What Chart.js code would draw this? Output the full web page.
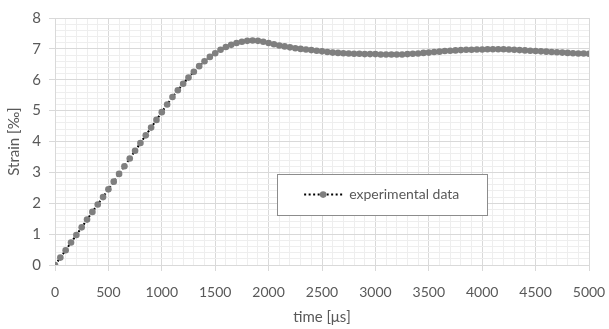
<!DOCTYPE html>
<html>
<head>
<meta charset="utf-8">
<script src="https://cdn.jsdelivr.net/npm/chart.js@4"></script>
<style>
  html, body { margin: 0; padding: 0; background: #fff; }
  #wrap { width: 609px; height: 329px; }
</style>
</head>
<body>
<div id="wrap"><canvas id="mycanvas" width="609" height="329"></canvas></div>
<script>
var timeUs = [
  0, 50, 100, 150, 200, 250, 300, 350, 400, 450,
  500, 550, 600, 650, 700, 750, 800, 850, 900, 950,
  1000, 1050, 1100, 1150, 1200, 1250, 1300, 1350, 1400, 1450,
  1500, 1550, 1600, 1650, 1700, 1750, 1800, 1850, 1900, 1950,
  2000, 2050, 2100, 2150, 2200, 2250, 2300, 2350, 2400, 2450,
  2500, 2550, 2600, 2650, 2700, 2750, 2800, 2850, 2900, 2950,
  3000, 3050, 3100, 3150, 3200, 3250, 3300, 3350, 3400, 3450,
  3500, 3550, 3600, 3650, 3700, 3750, 3800, 3850, 3900, 3950,
  4000, 4050, 4100, 4150, 4200, 4250, 4300, 4350, 4400, 4450,
  4500, 4550, 4600, 4650, 4700, 4750, 4800, 4850, 4900, 4950,
  5000
];
var strain = [
  0.00, 0.24, 0.48, 0.73, 0.97, 1.22, 1.47, 1.72, 1.96, 2.20,
  2.45, 2.70, 2.95, 3.20, 3.45, 3.70, 3.95, 4.20, 4.45, 4.70,
  4.95, 5.20, 5.44, 5.66, 5.87, 6.07, 6.26, 6.44, 6.60, 6.74,
  6.86, 6.97, 7.06, 7.13, 7.19, 7.23, 7.26, 7.27, 7.26, 7.23,
  7.19, 7.15, 7.11, 7.08, 7.05, 7.02, 7.00, 6.98, 6.96, 6.94,
  6.92, 6.90, 6.88, 6.87, 6.86, 6.85, 6.84, 6.84, 6.83, 6.83,
  6.83, 6.82, 6.82, 6.82, 6.82, 6.82, 6.83, 6.84, 6.85, 6.87,
  6.88, 6.90, 6.91, 6.93, 6.94, 6.95, 6.96, 6.97, 6.97, 6.98,
  6.98, 6.99, 6.99, 6.99, 6.99, 6.98, 6.97, 6.96, 6.95, 6.94,
  6.93, 6.92, 6.91, 6.90, 6.89, 6.88, 6.87, 6.86, 6.85, 6.85,
  6.84
];
var xLabelStep = 500;
var yLabelStep = 1;
var seriesName = 'experimental data';
var xTitle = 'time [\u03bcs]';
var yTitle = 'Strain [\u2030]';

var points = [];
for (var i in timeUs) {
  points.push({ x: timeUs[i], y: strain[i] });
}

var FONT = 'Lato, "Open Sans", sans-serif';
var TXT = '#595959';

function isMajor(v, step) {
  var r = v / step;
  return Math.abs(r - Math.round(r)) < 1e-6;
}

// legend box sits inside the plot area
var legendBox = {
  id: 'legendBox',
  afterDraw: function(chart) {
    var a = chart.chartArea;
    var w = a.right - a.left, h = a.bottom - a.top;
    var x1 = a.left + w * 0.416, x2 = a.left + w * 0.809;
    var y1 = a.top + h * 0.632, y2 = a.top + h * 0.798;
    var ctx = chart.ctx;
    ctx.save();
    ctx.fillStyle = '#ffffff';
    ctx.fillRect(x1, y1, x2 - x1, y2 - y1);
    ctx.strokeStyle = '#8c8c8c';
    ctx.lineWidth = 1;
    ctx.strokeRect(Math.round(x1) + 0.5, Math.round(y1) + 0.5, Math.round(x2 - x1), Math.round(y2 - y1));
    var cy = (y1 + y2) / 2;
    var lx = x1 + 27;
    ctx.strokeStyle = '#000000';
    ctx.lineWidth = 2;
    ctx.setLineDash([2, 2.5]);
    ctx.beginPath();
    ctx.moveTo(lx, cy);
    ctx.lineTo(lx + 38, cy);
    ctx.stroke();
    ctx.setLineDash([]);
    ctx.fillStyle = '#7f7f7f';
    ctx.beginPath();
    ctx.arc(lx + 19, cy, 3.3, 0, Math.PI * 2);
    ctx.fill();
    ctx.fillStyle = TXT;
    ctx.font = '14px ' + FONT;
    ctx.textBaseline = 'middle';
    ctx.fillText(seriesName, lx + 45, cy);
    ctx.restore();
  }
};

var ctx = document.getElementById('mycanvas');
var chart = new Chart(ctx, {
  type: 'line',
  data: {
    datasets: [{
      label: seriesName,
      data: points,
      borderColor: '#000000',
      borderWidth: 2,
      borderDash: [2, 2.5],
      pointRadius: 3.3,
      pointBorderWidth: 0,
      pointBackgroundColor: '#7f7f7f',
      pointBorderColor: '#7f7f7f',
      fill: false,
      tension: 0
    }]
  },
  options: {
    responsive: false,
    animation: false,
    layout: { padding: { top: 18, right: 20, left: 0, bottom: 0 } },
    plugins: {
      legend: { display: false },
      tooltip: { enabled: false }
    },
    scales: {
      x: {
        type: 'linear',
        min: 0,
        max: 5000,
        afterFit: function(s) {
          s.height = 64;
          s.paddingLeft = 0;
          s.paddingRight = 0;
        },
        ticks: {
          stepSize: 100,
          autoSkip: false,
          maxRotation: 0,
          padding: 13,
          color: TXT,
          font: { family: FONT, size: 14 },
          callback: function(v) { return isMajor(v, xLabelStep) ? String(v) : ''; }
        },
        grid: {
          color: function(c) { return isMajor(c.tick.value, xLabelStep) ? '#d9d9d9' : '#eeeeee'; },
          tickColor: function(c) { return isMajor(c.tick.value, xLabelStep) ? '#d9d9d9' : 'rgba(0,0,0,0)'; },
          tickLength: 6,
          lineWidth: 1
        },
        border: { color: '#d9d9d9' },
        title: {
          display: true,
          text: xTitle,
          color: TXT,
          font: { family: FONT, size: 15 },
          padding: { top: 4, bottom: 3 }
        }
      },
      y: {
        type: 'linear',
        min: 0,
        max: 8,
        afterFit: function(s) {
          s.width = 55;
          s.paddingTop = 0;
          s.paddingBottom = 0;
        },
        ticks: {
          stepSize: 0.2,
          autoSkip: false,
          padding: 8,
          color: TXT,
          font: { family: FONT, size: 15 },
          callback: function(v) { return isMajor(v, yLabelStep) ? String(Math.round(v)) : ''; }
        },
        grid: {
          color: function(c) { return isMajor(c.tick.value, yLabelStep) ? '#d9d9d9' : '#eeeeee'; },
          tickColor: function(c) { return isMajor(c.tick.value, yLabelStep) ? '#d9d9d9' : 'rgba(0,0,0,0)'; },
          tickLength: 6,
          lineWidth: 1
        },
        border: { color: '#d9d9d9' },
        title: {
          display: true,
          text: yTitle,
          color: TXT,
          font: { family: FONT, size: 15 },
          padding: { top: 5, bottom: 2 }
        }
      }
    }
  },
  plugins: [legendBox]
});
</script>
</body>
</html>
